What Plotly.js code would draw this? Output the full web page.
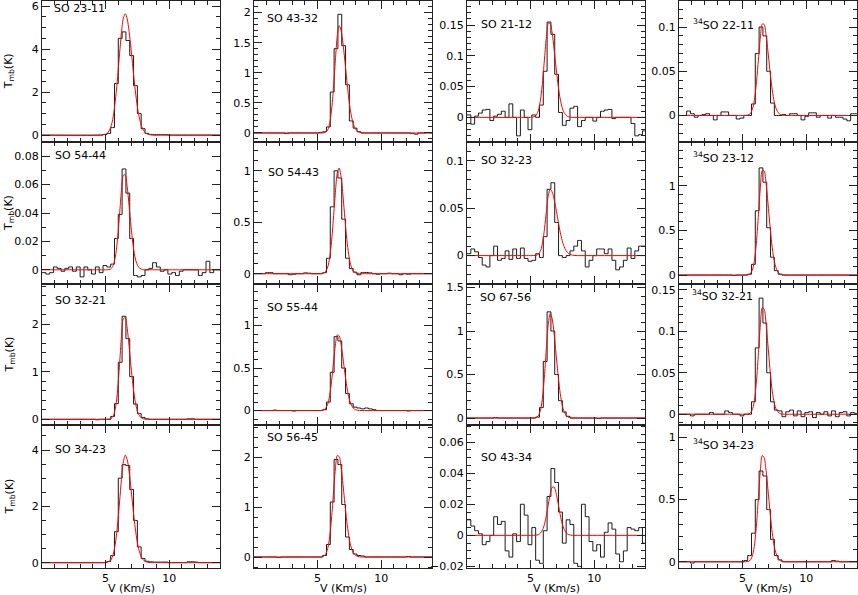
<!DOCTYPE html>
<html><head><meta charset="utf-8">
<script src="https://cdn.plot.ly/plotly-3.0.1.min.js"></script>
<style>html,body{margin:0;padding:0;background:#fff}#chart{width:858px;height:595px}</style>
</head><body><div id="chart"></div>
<script>
// Channel centres (km/s) of the observed spectra
const velocity = [-0.15,0.15,0.45,0.75,1.05,1.35,1.65,1.95,2.25,2.55,2.85,3.15,3.45,3.75,4.05,4.35,4.65,4.95,5.25,5.55,5.85,6.15,6.45,6.75,7.05,7.35,7.65,7.95,8.25,8.55,8.85,9.15,9.45,9.75,10.05,10.35,10.65,10.95,11.25,11.55,11.85,12.15,12.45,12.75,13.05,13.35,13.65,13.95,14.25];
// Velocities where the fitted profile was read
const fitVelocity = [0,4.5,5.1,5.4,5.6,5.8,5.95,6.1,6.25,6.4,6.55,6.7,6.85,7.0,7.15,7.3,7.45,7.6,7.8,8.0,8.3,8.7,9.3,14];

const lineNames = ['SO 23-11','SO 43-32','SO 21-12','<sup>34</sup>SO 22-11',
  'SO 54-44','SO 54-43','SO 32-23','<sup>34</sup>SO 23-12',
  'SO 32-21','SO 55-44','SO 67-56','<sup>34</sup>SO 32-21',
  'SO 34-23','SO 56-45','SO 43-34','<sup>34</sup>SO 34-23'];

// Observed Tmb (K)
const obs_SO_23_11 = [0,0,0,0,0,0,0,0,0,0, 0,0,0,0,0,0,0,0.03,0.08,0.35, 2.4,4.5,4.8,4.4,3.7,2.3,1.0,0.3,0.08,0.03, 0.02,0.02,0.02,0.02,0,0,0,0,0,0, 0,0,0,0,0,0,0,0,0];
const obs_SO_43_32 = [0,0,0,0,0,0,0,0,0,-0.01, 0,0,0,0,0,0,0,0,0.01,0.02, 0.1,0.68,1.4,1.97,1.45,0.8,0.2,0.08,0.02,0, 0,0,0,0,0,0,0,0,0,0, 0,0,-0.01,-0.02,0,0,0.005,0,0];
const obs_SO_21_12 = [0.004,0.004,-0.011,0.002,0.007,0.012,0.013,-0.005,0.002,0.005, 0.01,0,0.022,0,-0.03,0.012,0,-0.02,0.004,0, 0.02,0.075,0.155,0.135,0.07,0.008,-0.013,-0.005,0.015,0.018, -0.015,-0.005,0,0,-0.006,0,0.01,0.012,0.013,-0.002, 0,0,0,0,-0.01,-0.03,-0.028,-0.022,-0.022];
const obs_34SO_22_11 = [0,0,0,0.005,0.002,-0.002,0,0.001,0.002,0, -0.005,0,0.004,0.004,0,0,-0.004,-0.003,0,0, 0.013,0.07,0.1,0.09,0.05,0.014,0,0,0.001,0, 0.002,0.002,0,-0.005,-0.001,0.003,0.003,-0.002,0,0, -0.003,0,-0.002,-0.002,-0.004,-0.006,0.002,0.002,0.002];
const obs_SO_54_44 = [-0.002,-0.002,-0.003,-0.002,0.002,0.001,-0.001,0.001,0.002,-0.001, 0.002,-0.005,0.002,0,-0.003,0.002,-0.002,0.003,0.002,0.004, 0.022,0.039,0.071,0.054,0.022,-0.004,-0.005,-0.004,0,0.001, 0.005,0.002,-0.001,0,-0.003,-0.002,-0.004,-0.001,0,0, 0,0,-0.004,-0.002,0.006,-0.002,0,0,0];
const obs_SO_54_43 = [0,0,0,0,0.01,0.01,0,0,0,0, -0.01,-0.005,0,0,0.008,0.005,0,0,0,0.01, 0.15,0.65,1.0,0.93,0.53,0.15,0.05,0.015,-0.01,0.01, 0.012,0.008,0,-0.005,0,0,0.005,0,0,-0.01, 0,-0.005,0,0,0,0,0,0,0];
const obs_SO_32_23 = [0.002,0.002,0.007,0.004,-0.002,-0.01,-0.012,0,0.01,-0.005, -0.003,0.005,-0.004,0.007,-0.003,0.008,-0.003,-0.006,-0.005,0.002, -0.002,0.02,0.07,0.077,0.035,0,-0.002,0,0.005,0.01, 0.016,0.005,-0.012,-0.005,0,0.007,0.007,0.002,0.007,-0.005, -0.015,-0.012,-0.005,0.008,-0.003,0.005,0.01,0.01,0.01];
const obs_34SO_23_12 = [0,0,0,0,0,0,0,0,0,0, 0,0,0,0,0,-0.005,0,0,0,0.01, 0.12,0.72,1.2,1.04,0.53,0.2,0.05,0.01,0,0, 0,0,0,0,0,0,0,0,0,0, 0,0,0,0,0,0,0,0,0];
const obs_SO_32_21 = [0,0,0,0,0,0,0,0,0,0, 0,0,0,0,0,-0.01,0,0,0,0.06, 0.33,1.2,2.17,1.7,0.9,0.32,0.12,0.04,0.01,0, 0,0,0,0,0,0,0,0,0,0.01, 0.01,0,0,0,0,0,0,0,0];
const obs_SO_55_44 = [0,0,0,0,0,0,0.005,0,0,0, 0,-0.005,0,0,0,0,0,0,0,0.01, 0.1,0.45,0.87,0.82,0.5,0.2,0.08,0.04,0.03,0.02, 0.03,0.02,0.01,0,0,0,0,0,0,0, 0,-0.005,0,0,0,0,0,0,0];
const obs_SO_67_56 = [0,0,0,0,0,0,0,0,0.005,0, 0,0,0,0,0,0,0,0,0,0.01, 0.12,0.65,1.22,1.0,0.5,0.2,0.07,0.02,0,0, 0,0,0,0,0,-0.005,0,0,0,0, 0,0,0,0,0,0,0,0,0];
const obs_34SO_32_21 = [0,0,0,0,-0.002,0,0,0,0,0.002, 0,0,0,0.004,0.002,0,0,-0.002,0,0, 0.015,0.08,0.14,0.11,0.05,0.015,0.005,0.004,-0.003,0.003, 0.005,-0.002,0.004,-0.003,0.002,0.003,-0.004,0.002,0,0.003, -0.002,0.004,-0.003,0.002,0.003,-0.002,0.002,0.001,0.001];
const obs_SO_34_23 = [0,0,0,0,0,0,0,0,0,0, 0,0,0,0,0,0,0,0,0.04,0.25, 1.1,3.0,3.48,3.45,2.6,1.5,0.56,0.15,0.05,0.03, 0.02,0.02,0.02,0.02,0,0,0,0,0,0.03, 0.03,0.02,0,0,0,0,0,0,0];
const obs_SO_56_45 = [0,0,0,0,0,0,0,-0.01,0,0, 0,0,0,0,0,0,0,0,0,0.03, 0.25,1.1,1.95,1.85,1.05,0.4,0.15,0.06,0.03,0.02, 0,0,0,0,0,0,0,0,0,0, 0,0.01,0,0,0,0,0,0,0];
const obs_SO_43_34 = [0.01,0.01,0.006,0.003,0.001,-0.006,-0.004,0,0.012,0.007, 0.009,-0.01,-0.014,0.001,-0.004,0.02,0.013,-0.006,0.005,-0.016, -0.018,0.003,0.025,0.043,0.034,0.015,-0.005,0.01,0.007,-0.018, -0.02,0.02,0.012,-0.004,-0.01,-0.006,-0.014,0.002,0.008,0.004, -0.012,-0.017,-0.01,0.005,0.004,0.003,0.005,-0.005,-0.005];
const obs_34SO_34_23 = [0,0,0,0,-0.01,0,0,0,0,0, 0,0,0,0,0,0,0,0,0.01,0.05, 0.23,0.5,0.73,0.69,0.42,0.18,0.05,0.015,0,0, 0,0,0,0,0,0,0,0,0,0, 0,0.01,0.005,0,0,0,0,0,0];

// Fitted profiles (K) at fitVelocity
const fit_SO_23_11 = [0,0,0.07,0.35,0.86,1.78,2.72,3.78,4.77,5.45,5.64,5.40,4.83,4.02,3.13,2.27,1.54,0.97,0.47,0.20,0.05,0,0,0];
const fit_SO_43_32 = [0,0,0,0.001,0.01,0.05,0.16,0.38,0.74,1.21,1.61,1.78,1.70,1.49,1.19,0.87,0.58,0.35,0.16,0.06,0.01,0,0,0];
const fit_SO_21_12 = [0,0,0.0002,0.0026,0.0104,0.0316,0.060,0.0966,0.132,0.153,0.152,0.137,0.111,0.082,0.055,0.0335,0.0185,0.0092,0.0032,0.0009,0,0,0,0];
const fit_34SO_22_11 = [0,0,0,0.0004,0.002,0.0084,0.0196,0.0385,0.0637,0.0886,0.1035,0.1029,0.0911,0.0721,0.0511,0.0324,0.0184,0.0093,0.0032,0.0009,0,0,0,0];
const fit_SO_54_44 = [0,0,0,0.0006,0.0031,0.0109,0.0225,0.0389,0.0558,0.0666,0.0668,0.0585,0.0452,0.0307,0.0183,0.0096,0.0045,0.0018,0.0005,0,0,0,0,0];
const fit_SO_54_43 = [0,0,0,0.003,0.016,0.065,0.155,0.314,0.541,0.789,0.977,1.027,0.94,0.756,0.536,0.334,0.184,0.089,0.028,0.007,0,0,0,0];
const fit_SO_32_23 = [0,0,0,0.0002,0.0012,0.0057,0.0141,0.0288,0.0476,0.064,0.07,0.0671,0.0597,0.0493,0.0378,0.0269,0.0178,0.0109,0.0051,0.0021,0.0004,0,0,0];
const fit_34SO_23_12 = [0,0,0,0.002,0.014,0.07,0.181,0.386,0.679,0.983,1.172,1.165,1.026,0.803,0.561,0.348,0.192,0.095,0.031,0.008,0.001,0,0,0];
const fit_SO_32_21 = [0,0,0,0.011,0.067,0.276,0.627,1.158,1.738,2.122,2.137,1.915,1.543,1.117,0.728,0.426,0.225,0.106,0.033,0.009,0.001,0,0,0];
const fit_SO_55_44 = [0,0,0,0.0035,0.019,0.076,0.176,0.343,0.561,0.771,0.891,0.879,0.776,0.617,0.44,0.283,0.163,0.085,0.03,0.009,0.001,0,0,0];
const fit_SO_67_56 = [0,0,0,0.004,0.024,0.105,0.253,0.499,0.814,1.089,1.2,1.138,0.97,0.744,0.513,0.318,0.177,0.089,0.03,0.008,0.001,0,0,0];
const fit_34SO_32_21 = [0,0,0,0.0002,0.0013,0.0069,0.0187,0.0412,0.0741,0.1082,0.1285,0.1264,0.1089,0.0826,0.0551,0.0324,0.0168,0.0076,0.0022,0.0005,0,0,0,0];
const fit_SO_34_23 = [0,0,0.01,0.09,0.296,0.775,1.377,2.152,2.961,3.584,3.82,3.664,3.234,2.628,1.963,1.35,0.854,0.497,0.212,0.078,0.013,0.001,0,0];
const fit_SO_56_45 = [0,0,0,0.008,0.043,0.174,0.402,0.781,1.277,1.757,2.03,2.006,1.79,1.449,1.063,0.708,0.427,0.234,0.09,0.029,0.004,0,0,0];
const fit_SO_43_34 = [0,0,0,0.0001,0.0004,0.0016,0.0037,0.0074,0.0131,0.0201,0.0267,0.0309,0.0311,0.0275,0.0214,0.0146,0.0088,0.0047,0.0017,0.0005,0,0,0,0];
const fit_34SO_34_23 = [0,0,0,0.002,0.012,0.058,0.146,0.305,0.522,0.736,0.854,0.836,0.733,0.578,0.41,0.261,0.15,0.077,0.027,0.008,0.001,0,0,0];

const xTickVals = [5, 10];

// ---- layout configuration (not data) ----
const obsList = [obs_SO_23_11,obs_SO_43_32,obs_SO_21_12,obs_34SO_22_11,obs_SO_54_44,obs_SO_54_43,obs_SO_32_23,obs_34SO_23_12,obs_SO_32_21,obs_SO_55_44,obs_SO_67_56,obs_34SO_32_21,obs_SO_34_23,obs_SO_56_45,obs_SO_43_34,obs_34SO_34_23];
const fitList = [fit_SO_23_11,fit_SO_43_32,fit_SO_21_12,fit_34SO_22_11,fit_SO_54_44,fit_SO_54_43,fit_SO_32_23,fit_34SO_23_12,fit_SO_32_21,fit_SO_55_44,fit_SO_67_56,fit_34SO_32_21,fit_SO_34_23,fit_SO_56_45,fit_SO_43_34,fit_34SO_34_23];
const yRanges = [[-0.32,6.26],[-0.15,2.2],[-0.04,0.19],[-0.03,0.13],
  [-0.01,0.09],[-0.1,1.28],[-0.03,0.12],[-0.1,1.49],
  [-0.12,2.85],[-0.17,1.49],[-0.08,1.54],[-0.013,0.157],
  [-0.19,4.89],[-0.22,2.64],[-0.021,0.071],[-0.05,1.1]];
const yDtick = [2,0.5,0.05,0.05, 0.02,0.5,0.05,0.5, 1,0.5,0.5,0.05, 2,1,0.02,0.5];
const yMinor = [0.5,0.1,0.01,0.01, 0.01,0.1,0.01,0.1, 0.2,0.1,0.1,0.01, 0.5,0.2,0.005,0.1];
const labelPx = [[52,9],[265,18],[479,25],[691,25],
  [53,156],[266,172],[479,161],[691,158],
  [53,300],[265,307],[478,297],[690,295],
  [53,449],[265,437],[479,457],[691,444]];

const W = 858, H = 595;
const colPx = [[42,220],[254,432],[467,645],[679,857]];
const rowPx = [[0.5,142],[142,284],[284,425],[425,568]];
const axCol = '#222';
const fontFam = 'DejaVu Sans, Arial, sans-serif';

const traces = [];
const layout = {
  width: W, height: H, margin: {l:0, r:0, t:0, b:0},
  showlegend: false, paper_bgcolor: '#fff', plot_bgcolor: '#fff',
  annotations: [], font: {family: fontFam, size: 11, color: '#000'}
};

for (let p = 0; p < 16; p++) {
  const r = Math.floor(p / 4), c = p % 4, n = p + 1;
  const xs = n === 1 ? 'x' : 'x' + n, ys = n === 1 ? 'y' : 'y' + n;
  const xk = n === 1 ? 'xaxis' : 'xaxis' + n, yk = n === 1 ? 'yaxis' : 'yaxis' + n;
  layout[xk] = {
    domain: [colPx[c][0] / W, colPx[c][1] / W], anchor: ys,
    range: [0, 14], tickmode: 'array', tickvals: xTickVals,
    showticklabels: r === 3, ticks: 'inside', ticklen: 8, tickwidth: 1, tickcolor: axCol,
    minor: {tickmode: 'linear', tick0: 0, dtick: 1, ticks: 'inside', ticklen: 4, tickwidth: 1, tickcolor: axCol, showgrid: false},
    showline: true, mirror: 'allticks', linecolor: axCol, linewidth: 1,
    showgrid: false, zeroline: false, fixedrange: true, ticklabeloverflow: 'allow',
    tickfont: {family: fontFam, size: 11, color: '#000'}
  };
  layout[yk] = {
    domain: [1 - rowPx[r][1] / H, 1 - rowPx[r][0] / H], anchor: xs,
    range: yRanges[p], tickmode: 'linear', tick0: 0, dtick: yDtick[p],
    ticks: 'inside', ticklen: 8, tickwidth: 1, tickcolor: axCol,
    minor: {tickmode: 'linear', tick0: 0, dtick: yMinor[p], ticks: 'inside', ticklen: 4, tickwidth: 1, tickcolor: axCol, showgrid: false},
    showline: true, mirror: 'allticks', linecolor: axCol, linewidth: 1,
    showgrid: false, zeroline: false, fixedrange: true, ticklabeloverflow: 'allow',
    tickfont: {family: fontFam, size: 11, color: '#000'}
  };
  traces.push({x: velocity, y: obsList[p], xaxis: xs, yaxis: ys, mode: 'lines',
    line: {shape: 'hvh', color: '#1a1a1a', width: 1}, hoverinfo: 'skip'});
  traces.push({x: fitVelocity, y: fitList[p], xaxis: xs, yaxis: ys, mode: 'lines',
    line: {shape: 'spline', smoothing: 0.8, color: '#ff0000', width: 1}, hoverinfo: 'skip'});
  layout.annotations.push({text: lineNames[p], xref: 'paper', yref: 'paper',
    x: labelPx[p][0] / W, y: 1 - labelPx[p][1] / H, xanchor: 'left', yanchor: 'middle',
    showarrow: false, font: {family: fontFam, size: 11, color: '#000'}});
  if (c === 0) {
    layout.annotations.push({text: 'T<sub>mb</sub>(K)', xref: 'paper', yref: 'paper',
      x: 9 / W, y: 1 - (rowPx[r][0] + rowPx[r][1]) / 2 / H, xanchor: 'center', yanchor: 'middle',
      textangle: -90, showarrow: false, font: {family: fontFam, size: 11, color: '#000'}});
  }
  if (r === 3) {
    layout.annotations.push({text: 'V (Km/s)', xref: 'paper', yref: 'paper',
      x: (colPx[c][0] + colPx[c][1]) / 2 / W, y: 1 - 588 / H, xanchor: 'center', yanchor: 'middle',
      showarrow: false, font: {family: fontFam, size: 11, color: '#000'}});
  }
}

Plotly.newPlot('chart', traces, layout, {displayModeBar: false, staticPlot: true});
</script>
</body></html>
